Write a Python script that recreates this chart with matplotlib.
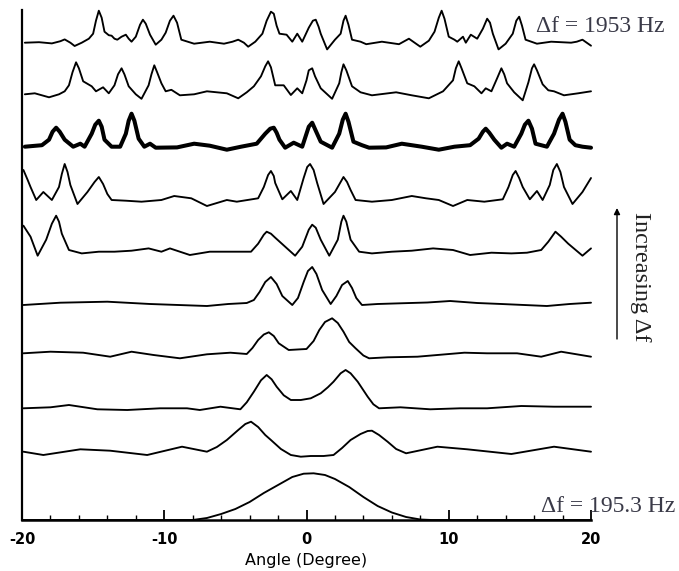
import matplotlib
matplotlib.use("Agg")
import matplotlib.pyplot as plt
from matplotlib.ticker import MultipleLocator

plt.rcParams["axes.unicode_minus"] = False

# Trazas apiladas, de arriba (Δf = 1953 Hz) hacia abajo (Δf = 195.3 Hz)
# cada punto: (ángulo en grados, amplitud sobre la línea base de la traza)
t1 = [(-19.8, 0), (-18.8, 0.5), (-17.9, -0.7), (-17.3, 1.5), (-17.0, 3.3), (-16.6, 0),
      (-16.3, -3.3), (-15.8, 0), (-15.3, 4), (-15.0, 9), (-14.8, 22), (-14.6, 32),
      (-14.4, 25), (-14.2, 11), (-13.9, 7.5), (-13.7, 7), (-13.5, 4), (-13.3, 3),
      (-13.0, 6), (-12.7, 8), (-12.5, 4), (-12.3, 1), (-12.0, 6), (-11.7, 18),
      (-11.5, 23), (-11.3, 19), (-11.0, 8), (-10.6, -2), (-10.2, 3), (-9.9, 10),
      (-9.6, 22), (-9.35, 27), (-9.1, 20), (-8.8, 3), (-7.9, -1), (-6.8, 1), (-5.8, -1),
      (-5.2, 1), (-4.8, 3), (-4.4, 0), (-4.1, -4), (-3.6, 1), (-3.1, 9), (-2.8, 22),
      (-2.5, 31), (-2.3, 29), (-2.1, 17), (-1.9, 9), (-1.4, 8), (-1.0, 1), (-0.65, 9),
      (-0.3, 1), (0.16, 15), (0.45, 22), (0.65, 23), (0.85, 16), (1.0, 9), (1.45, -6.7),
      (2.0, 3), (2.4, 9), (2.6, 22), (2.75, 27), (2.95, 18), (3.2, 3), (3.8, 1),
      (4.2, -1.5), (5.3, 1), (6.5, -1.5), (7.2, 4), (7.6, 0), (8.0, -4), (8.6, 2),
      (9.0, 11), (9.3, 25), (9.5, 32), (9.7, 24), (10.0, 6), (10.4, 3), (10.6, 1),
      (11.0, 6), (11.2, 0), (11.55, 8), (12.0, 4), (12.4, 14), (12.7, 24), (12.9, 20),
      (13.1, 9), (13.5, -6.7), (14.0, -1), (14.5, 9), (14.75, 22), (14.95, 26),
      (15.15, 17), (15.4, 3), (16.2, -1), (17.2, 1), (18.6, 0), (19.0, 1), (19.4, 3),
      (19.7, 0), (20.0, -3)]

t2 = [(-19.8, 0), (-19.1, 1), (-18.6, -1), (-18.1, -3), (-17.4, 0), (-17.0, 3),
      (-16.7, 9), (-16.45, 22), (-16.2, 32), (-16.0, 26), (-15.7, 13), (-15.1, 8),
      (-14.8, 3), (-14.3, 7), (-13.9, 1), (-13.5, 9), (-13.25, 20), (-13.0, 26),
      (-12.8, 20), (-12.5, 8), (-12.0, 0), (-11.6, -4.5), (-11.1, 9), (-10.9, 20),
      (-10.7, 29), (-10.5, 22), (-10.2, 11), (-9.9, 3), (-9.5, 4.5), (-8.9, -1),
      (-7.9, 0), (-7.0, 3), (-5.6, 1), (-4.8, -4), (-4.2, 2), (-3.7, 8), (-3.2, 18),
      (-2.9, 28), (-2.7, 33), (-2.5, 27), (-2.2, 9), (-1.6, 9), (-1.1, -0.7),
      (-0.65, 6), (-0.3, 1), (0.0, 14), (0.16, 24), (0.4, 26), (0.6, 18), (1.0, 6),
      (1.8, -4.5), (2.3, 11), (2.45, 22), (2.6, 30), (2.8, 24), (3.2, 8), (3.8, 2),
      (4.6, -1), (6.3, 2), (7.4, -1), (8.6, -4), (9.6, 3), (10.3, 14), (10.5, 26),
      (10.7, 33), (10.9, 26), (11.3, 11), (11.8, 8), (12.3, 1), (12.6, 6), (13.0, 3),
      (13.4, 16), (13.7, 26), (13.9, 20), (14.1, 11), (14.6, 2), (15.2, -6), (15.6, 12),
      (15.85, 26), (16.0, 30), (16.2, 24), (16.6, 10), (17.0, 4), (17.4, 3), (18.1, -1),
      (19.1, 1), (20.0, 3)]

t3 = [(-19.8, 0), (-18.6, 1.5), (-18.1, 7), (-17.85, 15), (-17.6, 19), (-17.35, 15),
      (-17.0, 7), (-16.4, 0), (-15.9, 3), (-15.6, 0), (-15.1, 13), (-14.85, 22),
      (-14.6, 26), (-14.4, 20), (-14.2, 7), (-13.7, 0), (-13.1, 0), (-12.7, 13),
      (-12.5, 26), (-12.3, 33), (-12.1, 26), (-11.8, 8), (-11.4, 0), (-11.0, 3),
      (-10.6, -1), (-9.1, -0.7), (-7.9, 3), (-6.8, 1), (-5.6, -3), (-4.6, 0), (-3.5, 3),
      (-2.9, 13), (-2.55, 18), (-2.3, 19), (-2.1, 14), (-1.9, 7), (-1.5, -1), (-0.9, 4),
      (-0.3, 0), (0.16, 20), (0.4, 24), (0.65, 16), (1.0, 5), (1.8, -1), (2.3, 13),
      (2.55, 27), (2.75, 33), (2.95, 25), (3.3, 5), (3.9, 1.5), (4.4, -1), (5.6, -0.7),
      (6.7, 3), (8.1, 0), (9.3, -3), (10.4, 0), (11.5, 1.5), (12.1, 8), (12.4, 15),
      (12.6, 18), (12.85, 14), (13.2, 7), (13.7, -1), (14.1, 3), (14.6, 0), (15.1, 13),
      (15.35, 22), (15.6, 26), (15.85, 18), (16.1, 3), (16.9, 0), (17.4, 13),
      (17.75, 27), (18.0, 33), (18.2, 25), (18.5, 7), (18.9, 1.5), (19.4, 0), (20.0, -1)]

t4 = [(-19.9, 30), (-19.6, 20), (-19.4, 13), (-19.0, 0), (-18.5, 8), (-17.9, 0),
      (-17.4, 13), (-17.2, 26), (-17.0, 36), (-16.8, 28), (-16.6, 15), (-16.1, -4),
      (-15.4, 8), (-14.9, 18), (-14.6, 23), (-14.3, 16), (-14.0, 6), (-13.7, 0),
      (-12.7, -0.7), (-11.6, -1.7), (-10.2, 0), (-9.3, 4), (-8.1, 1.7), (-7.0, -6),
      (-5.6, 0), (-4.9, -1.7), (-3.4, 1.7), (-3.0, 13), (-2.7, 25), (-2.5, 29),
      (-2.3, 24), (-2.2, 17), (-1.7, 0.7), (-1.1, 9), (-0.65, 0), (-0.2, 22), (0.05, 33),
      (0.25, 36), (0.5, 30), (0.75, 17), (1.2, -4), (2.0, 8), (2.4, 18), (2.6, 23),
      (2.85, 18), (3.1, 10), (3.45, 0), (4.6, -1.7), (6.0, 0), (7.4, 4), (8.4, 1.7),
      (9.3, 0), (10.3, -6), (11.3, 0), (12.5, -1.7), (13.8, 0.7), (14.2, 13), (14.5, 25),
      (14.7, 29), (14.95, 22), (15.2, 13), (15.7, 0.7), (16.2, 9), (16.6, 0), (17.1, 15),
      (17.35, 30), (17.6, 36), (17.85, 28), (18.1, 13), (18.7, -4), (19.4, 8), (20.0, 22)]

t5 = [(-19.9, 26), (-19.4, 15), (-18.9, -4), (-18.3, 12), (-17.9, 28), (-17.6, 36),
      (-17.4, 30), (-17.2, 18), (-16.7, 1.7), (-15.8, -1.7), (-14.6, 0), (-13.5, 0),
      (-12.3, 1), (-11.1, 3.3), (-10.2, 0), (-9.6, 3.3), (-8.2, -3.3), (-6.8, 0),
      (-5.1, 0), (-3.9, 0), (-3.4, 8), (-3.0, 17), (-2.8, 20), (-2.5, 18), (-2.2, 14),
      (-1.5, 5), (-0.8, -4), (-0.3, 5), (0.16, 22), (0.4, 27), (0.65, 24), (1.0, 12),
      (1.6, -4), (2.2, 12), (2.45, 30), (2.6, 36), (2.8, 30), (3.1, 12), (3.7, 0),
      (4.6, -1.7), (6.0, 0), (7.4, 1), (8.9, 3.3), (10.3, 1.7), (11.5, -3.3), (13.0, -1),
      (14.4, -1.7), (15.5, -1), (16.5, 1.7), (17.0, 10), (17.5, 20), (17.9, 15),
      (18.4, 8), (19.4, -4), (20.0, 3.3)]

t6 = [(-19.9, -1), (-17.3, 1.3), (-14.0, 2.3), (-11.0, 0), (-7.0, -2), (-5.5, 0),
      (-4.2, 1), (-3.7, 4), (-3.3, 12), (-2.9, 22), (-2.5, 27), (-2.1, 20), (-1.7, 8),
      (-1.0, -1), (-0.6, 6), (-0.2, 22), (0.1, 33), (0.4, 37), (0.7, 30), (1.1, 14),
      (1.7, 0), (2.1, 8), (2.5, 19), (2.9, 23), (3.2, 16), (3.5, 6), (3.9, -1), (5.0, 0),
      (6.6, 0.7), (8.5, 1.5), (10.1, 3), (12.0, 1), (13.7, 0), (16.9, -2), (18.5, 0),
      (20.0, 1.3)]

t7 = [(-19.9, -0.3), (-18.0, 1.3), (-15.7, 0.3), (-13.8, -3.7), (-12.3, 1.3),
      (-10.75, -2), (-8.9, -5.3), (-7.0, -1.3), (-5.35, 0.3), (-4.2, -1), (-3.8, 5),
      (-3.4, 13), (-3.0, 18.5), (-2.65, 20.7), (-2.3, 17), (-1.95, 9.7), (-1.25, 3),
      (-0.4, 3.7), (0.0, 4), (0.5, 12), (0.9, 23), (1.3, 31), (1.8, 34.7), (2.2, 30),
      (2.6, 21.3), (3.0, 11), (3.45, 4.7), (4.0, -2.5), (4.4, -5.3), (5.7, -4.3),
      (7.8, -3.7), (11.1, 0.3), (12.7, -0.3), (14.8, -0.3), (16.5, -3.7), (17.9, 1.3),
      (20.0, -3.7)]

t8 = [(-19.9, 0), (-18.0, 1), (-16.7, 3.3), (-14.7, -1), (-12.6, -1.7), (-10.3, 0),
      (-8.4, 0), (-7.5, -1.7), (-6.05, 1.6), (-4.65, -1), (-4.2, 6), (-3.7, 16.6),
      (-3.2, 28), (-2.8, 33.3), (-2.45, 29), (-2.1, 21.6), (-1.6, 13), (-1.1, 8.3),
      (-0.4, 8.3), (0.3, 10), (1.0, 15), (1.5, 21), (1.9, 26.6), (2.4, 35), (2.75, 38.3),
      (3.1, 35), (3.6, 26.6), (4.3, 11.6), (4.7, 4), (5.1, 0), (6.6, 1), (8.7, -1),
      (10.8, 0), (12.7, 0), (15.1, 2.3), (17.4, 1.6), (20.0, 1.6)]

t9 = [(-19.9, 0.3), (-18.5, -3), (-15.9, 2.7), (-13.8, 1.3), (-11.2, -3), (-8.75, 5.3),
      (-7.0, 0.3), (-6.3, 5), (-5.6, 12), (-4.8, 22), (-4.3, 28), (-3.9, 30.3),
      (-3.4, 25), (-2.9, 17), (-2.5, 12), (-1.8, 3), (-1.1, -3), (-0.4, -4.7), (0.3, -4),
      (1.2, -4), (1.9, -3), (2.5, 4), (3.1, 12), (3.8, 18), (4.3, 21), (4.6, 21.3),
      (5.1, 17), (5.7, 10.3), (6.3, 3), (7.0, -1.3), (9.2, 5.3), (11.3, 2.7), (14.4, -2),
      (17.4, 5.3), (20.0, 0.3)]

t10 = [(-20.0, 0), (-10.0, 0), (-8.0, 0), (-7.0, 2), (-6.0, 6), (-5.0, 11), (-4.0, 18),
       (-3.0, 27), (-2.0, 35), (-1.0, 43), (-0.2, 46.3), (0.5, 46.7), (1.3, 45),
       (2.0, 41), (3.0, 33), (4.0, 23), (5.0, 14), (6.0, 7.5), (7.0, 3), (8.0, 0.5),
       (8.8, 0), (20.0, 0)]

traces = [t1, t2, t3, t4, t5, t6, t7, t8, t9, t10]
# desplazamiento vertical de cada traza
offsets = [477.3, 425.7, 373.3, 320, 268.3, 216, 167, 111.7, 68, 0]


def graficar_traza(ax, puntos, base, lw):
    xs = [p[0] for p in puntos]
    ys = [p[1] + base for p in puntos]
    ax.plot(xs, ys, color="black", lw=lw, solid_joinstyle="round",
            solid_capstyle="round", clip_on=False)


fig = plt.figure(figsize=(6.79, 5.71), dpi=100)
ax = fig.add_axes([22 / 679, 51 / 571, 569 / 679, 510 / 571])

for i, tr in enumerate(traces):
    graficar_traza(ax, tr, offsets[i], 2.9 if i == 2 else 1.35)

ax.set_xlim(-20, 20)
ax.set_ylim(0, 510)
ax.spines["top"].set_visible(False)
ax.spines["right"].set_visible(False)
ax.spines["left"].set_linewidth(1.6)
ax.spines["bottom"].set_linewidth(1.8)
ax.set_yticks([])

ax.xaxis.set_major_locator(MultipleLocator(10))
ax.xaxis.set_minor_locator(MultipleLocator(2))
ax.tick_params(axis="x", which="major", direction="in", length=7, width=1.3, pad=9)
ax.tick_params(axis="x", which="minor", direction="in", length=3.5, width=1.0)
for lab in ax.get_xticklabels():
    lab.set_fontfamily("DejaVu Sans")
    lab.set_fontweight("bold")
    lab.set_fontsize(10.5)
ax.set_xlabel("Angle (Degree)", fontfamily="DejaVu Sans", fontsize=11.5, labelpad=4)

serif = "Liberation Serif"
txt_color = "#3a3a48"
fig.text(536 / 679, 1 - 31.5 / 571, "Δf = 1953 Hz", fontfamily=serif, fontsize=17,
         color=txt_color, ha="left", va="baseline")
fig.text(541 / 679, 1 - 512 / 571, "Δf = 195.3 Hz", fontfamily=serif, fontsize=17,
         color=txt_color, ha="left", va="baseline")
fig.text(640 / 679, 1 - 277 / 571, "Increasing Δf", fontfamily=serif, fontsize=17.5,
         color="#222222", ha="center", va="center", rotation=270)

ax.annotate("", xy=(617, 571 - 208), xytext=(617, 571 - 339),
            xycoords="figure pixels", textcoords="figure pixels",
            arrowprops=dict(arrowstyle="-|>", color="black", lw=1.0,
                            mutation_scale=9, shrinkA=0, shrinkB=0))

fig.savefig("out.png", dpi=100)
